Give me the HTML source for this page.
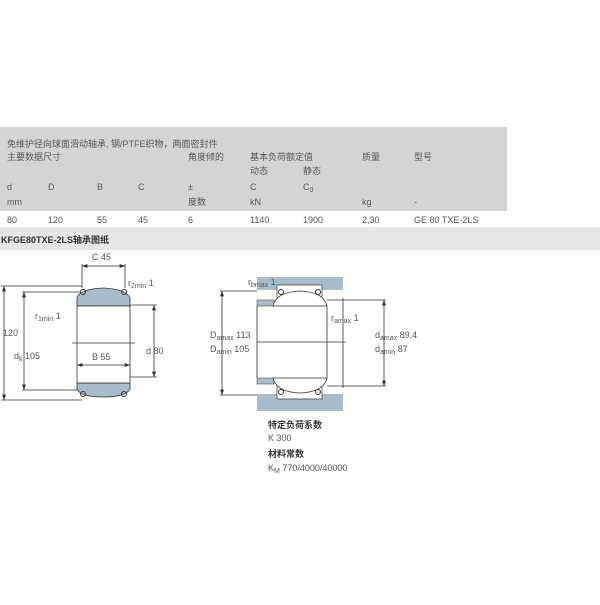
<!DOCTYPE html>
<html><head><meta charset="utf-8"><style>
body{margin:0;background:#fff;width:600px;height:600px;overflow:hidden;font-family:"Liberation Sans","Noto Sans CJK SC",sans-serif;}
svg text{font-family:"Liberation Sans","Noto Sans CJK SC",sans-serif;fill:#555;font-size:9px;}
</style></head><body>
<svg width="600" height="600" xmlns="http://www.w3.org/2000/svg">
<defs>
<marker id="a" viewBox="0 0 8 6" refX="8" refY="3" markerWidth="7" markerHeight="5" orient="auto-start-reverse"><path d="M0 0 L8 3 L0 6Z" fill="#333"/></marker>
</defs>
<rect x="0" y="127" width="507" height="84" fill="#d4d4d4"/>
<rect x="0" y="227" width="600" height="23" fill="#e6e6e6"/>
<g font-size="9">
<text x="7" y="147">免维护径向球面滑动轴承, 钢/PTFE织物，两面密封件</text>
<text x="7" y="160">主要数据尺寸</text><text x="188" y="160">角度倾的</text><text x="250" y="160">基本负荷额定值</text><text x="362" y="160">质量</text><text x="414" y="160">型号</text>
<text x="250" y="174">动态</text><text x="303" y="174">静态</text>
<text x="7" y="190">d</text><text x="48" y="190">D</text><text x="97" y="190">B</text><text x="138" y="190">C</text><text x="188" y="190">±</text><text x="250" y="190">C</text><text x="303" y="190">C<tspan font-size="7" dy="2">0</tspan></text>
<text x="7" y="205">mm</text><text x="188" y="205">度数</text><text x="250" y="205">kN</text><text x="362" y="205">kg</text><text x="414" y="205">-</text>
<text x="7" y="223">80</text><text x="48" y="223">120</text><text x="97" y="223">55</text><text x="138" y="223">45</text><text x="188" y="223">6</text><text x="250" y="223">1140</text><text x="303" y="223">1900</text><text x="362" y="223">2,30</text><text x="414" y="223">GE 80 TXE-2LS</text>
</g>
<text x="1" y="243" font-weight="bold" style="fill:#333" font-size="9.5">KFGE80TXE-2LS轴承图纸</text>

<!-- left drawing -->
<g stroke="#333" stroke-width="0.8" fill="none">
<line x1="82" y1="264" x2="82" y2="288"/><line x1="125" y1="264" x2="125" y2="288"/>
<line x1="82" y1="266" x2="125" y2="266" marker-start="url(#a)" marker-end="url(#a)"/>
<line x1="1" y1="286" x2="82" y2="286"/><line x1="1" y1="400" x2="82" y2="400"/>
<line x1="4" y1="286" x2="4" y2="400" marker-start="url(#a)" marker-end="url(#a)"/>
<line x1="22" y1="292" x2="80" y2="292"/><line x1="22" y1="390" x2="80" y2="390"/>
<line x1="24" y1="292" x2="24" y2="390" marker-start="url(#a)" marker-end="url(#a)"/>
<line x1="130" y1="305" x2="157" y2="305"/><line x1="130" y1="377" x2="157" y2="377"/>
<line x1="154" y1="305" x2="154" y2="377" marker-start="url(#a)" marker-end="url(#a)"/>
</g>
<path d="M77 298 Q80 289 103 288 Q126 289 130 298 L130 306 L77 306Z" fill="#a9bccb" stroke="#333" stroke-width="0.8"/>
<path d="M77 383 L130 383 L130 389 Q126 397 103 397 Q80 397 77 389Z" fill="#a9bccb" stroke="#333" stroke-width="0.8"/>
<rect x="77" y="306" width="53" height="77" fill="#fff" stroke="#333" stroke-width="0.8"/>
<line x1="72" y1="343" x2="135" y2="343" stroke="#333" stroke-width="0.8"/>
<line x1="77" y1="365" x2="130" y2="365" stroke="#333" stroke-width="0.8" marker-start="url(#a)" marker-end="url(#a)"/>
<circle cx="83" cy="292" r="2.5" fill="none" stroke="#333"/><circle cx="124" cy="292" r="2.5" fill="none" stroke="#333"/>
<circle cx="83" cy="394" r="2.5" fill="none" stroke="#333"/><circle cx="124" cy="394" r="2.5" fill="none" stroke="#333"/>
<text x="92" y="260">C  45</text>
<text x="128" y="286">r<tspan font-size="7" dy="2">2min</tspan><tspan dy="-2">  1</tspan></text>
<text x="35" y="319">r<tspan font-size="7" dy="2">1min</tspan><tspan dy="-2">  1</tspan></text>
<text x="3" y="336">120</text>
<text x="14" y="359">d<tspan font-size="7" dy="2">k</tspan><tspan dy="-2">  105</tspan></text>
<text x="92" y="360">B  55</text>
<text x="146" y="354">d  80</text>

<!-- right drawing -->
<rect x="257" y="277" width="86" height="13" fill="#a9bccb"/>
<rect x="257" y="394" width="86" height="17" fill="#a9bccb"/>
<rect x="277" y="285" width="45" height="13" fill="#fff" stroke="#333" stroke-width="0.7"/>
<rect x="277" y="386" width="45" height="13" fill="#fff" stroke="#333" stroke-width="0.7"/>
<rect x="257" y="300" width="17" height="6" fill="#a9bccb" stroke="#333" stroke-width="0.5"/>
<rect x="257" y="378" width="17" height="6" fill="#a9bccb" stroke="#333" stroke-width="0.5"/>
<path d="M273 306 Q276 292 300 291 Q324 292 327 306Z" fill="#fff" stroke="#333" stroke-width="0.8"/>
<path d="M273 378 Q276 392 300 393 Q324 392 327 378Z" fill="#fff" stroke="#333" stroke-width="0.8"/>
<circle cx="281" cy="292" r="2.5" fill="none" stroke="#333"/><circle cx="318" cy="292" r="2.5" fill="none" stroke="#333"/>
<circle cx="281" cy="392" r="2.5" fill="none" stroke="#333"/><circle cx="318" cy="392" r="2.5" fill="none" stroke="#333"/>
<g stroke="#333" stroke-width="0.8" fill="none">
<line x1="257" y1="306" x2="257" y2="378"/><line x1="327" y1="306" x2="327" y2="378"/>
<line x1="257" y1="342" x2="346" y2="342"/>
<line x1="220" y1="291" x2="257" y2="291"/><line x1="220" y1="395" x2="257" y2="395"/>
<line x1="222" y1="291" x2="222" y2="395" marker-start="url(#a)" marker-end="url(#a)"/>
<line x1="327" y1="300" x2="386" y2="300"/><line x1="327" y1="386" x2="386" y2="386"/>
<line x1="384" y1="300" x2="384" y2="386" marker-start="url(#a)" marker-end="url(#a)"/>
<line x1="343" y1="298" x2="343" y2="388"/>
</g>
<text x="248" y="285">r<tspan font-size="7" dy="2">bmax</tspan><tspan dy="-2">  1</tspan></text>
<text x="210" y="338">D<tspan font-size="7" dy="2">amax</tspan><tspan dy="-2">  113</tspan></text>
<text x="210" y="352">D<tspan font-size="7" dy="2">amin</tspan><tspan dy="-2">  105</tspan></text>
<text x="331" y="321">r<tspan font-size="7" dy="2">amax</tspan><tspan dy="-2">  1</tspan></text>
<text x="375" y="338">d<tspan font-size="7" dy="2">amax</tspan><tspan dy="-2">  89,4</tspan></text>
<text x="375" y="352">d<tspan font-size="7" dy="2">amin</tspan><tspan dy="-2">  87</tspan></text>
<text x="268" y="428" font-weight="bold" style="fill:#333">特定负荷系数</text>
<text x="268" y="441">K  300</text>
<text x="268" y="457" font-weight="bold" style="fill:#333">材料常数</text>
<text x="268" y="471">K<tspan font-size="7" dy="2">M</tspan><tspan dy="-2"> 770/4000/40000</tspan></text>
</svg>
</body></html>
